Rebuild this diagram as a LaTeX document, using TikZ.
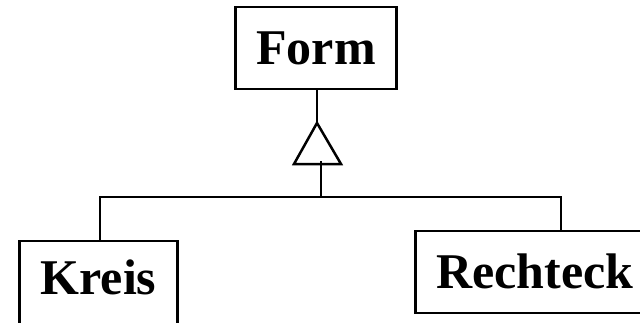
\documentclass[tikz,border=0pt]{standalone}
\usepackage{fontspec}
\setmainfont{Liberation Serif}
\begin{document}
\begin{tikzpicture}[x=1pt,y=1pt,
  line width=2.5pt,
  classbox/.style={draw, rectangle, inner xsep=21pt, inner ysep=0pt,
    text height=57pt, text depth=25pt,
    font=\fontsize{50}{60}\selectfont\bfseries},
  link/.style={draw, line cap=butt},
  inherit/.style={draw, line join=miter}]
  % page frame
  \useasboundingbox (0,0) rectangle (640,322);
  \clip (0,0) rectangle (640,322);

  % classes
  \node[classbox, anchor=base] (Form) at (316,258) {Form};
  \node[classbox, anchor=base, text height=53pt, text depth=40pt] (Kreis) at (98.5,28) {Kreis};
  \node[classbox, anchor=base west] (Rechteck) at (414,34) {Rechteck};

  % generalisation triangle and bus
  \coordinate (apex) at (317,199);
  \coordinate (triL) at (294,158);
  \coordinate (triR) at (341,158);
  \coordinate (stem) at (321,161);
  \coordinate (busL) at (100,125);
  \coordinate (busR) at (561,125);

  \draw[link] (Form.south -| apex) -- (apex);
  \draw[inherit] (apex) -- (triL) -- (triR) -- cycle;
  \draw[link] (stem) -- (stem |- busL);
  \draw[link] (busL |- Kreis.north) -- (busL) -- (busR) -- (busR |- Rechteck.north);
\end{tikzpicture}
\end{document}
